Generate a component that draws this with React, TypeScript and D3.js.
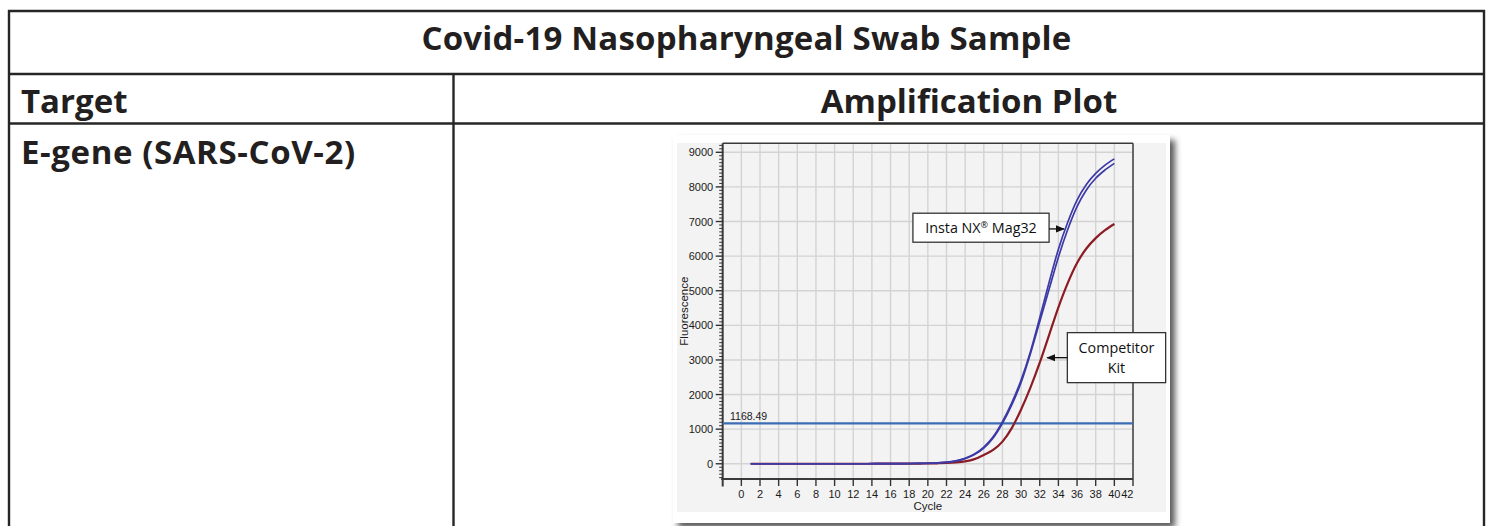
import React from "react";
import * as d3 from "d3";

const title = "Covid-19 Nasopharyngeal Swab Sample";
const colHeaders = ["Target", "Amplification Plot"];
const rowLabel = "E-gene (SARS-CoV-2)";

const cycles = [1, 2, 3, 4, 5, 6, 7, 8, 9, 10, 11, 12, 13, 14, 15, 16, 17, 18, 19, 20,
  21, 22, 23, 24, 25, 26, 27, 28, 29, 30, 31, 32, 33, 34, 35, 36, 37, 38, 39, 40];
const instaRun1 = [0, 0, 0, 0, 0, 0, 0, 0, 0, 0, 0, 0, 0, 2, 3, 4, 6, 8, 11, 15,
  25, 45, 85, 160, 280, 480, 780, 1220, 1760, 2420, 3240, 4220, 5240, 6200, 6980, 7620, 8070, 8390, 8630, 8810];
const instaRun2 = [0, 0, 0, 0, 0, 0, 0, 0, 0, 0, 0, 0, 0, 2, 3, 4, 5, 7, 10, 13,
  22, 40, 76, 150, 265, 455, 745, 1170, 1700, 2350, 3180, 4110, 5040, 5970, 6770, 7430, 7910, 8250, 8490, 8680];
const competitor = [0, 0, 0, 0, 0, 0, 0, 0, 0, 0, 0, 0, 0, 1, 2, 3, 4, 5, 7, 9,
  14, 22, 38, 70, 135, 255, 400, 640, 1030, 1570, 2200, 2920, 3720, 4520, 5220, 5800, 6220, 6520, 6750, 6930];
const threshold = 1168.49;
const thresholdLabel = "1168.49";
const xTicks = [0, 2, 4, 6, 8, 10, 12, 14, 16, 18, 20, 22, 24, 26, 28, 30, 32, 34, 36, 38, 40, 42];
const yTicks = [0, 1000, 2000, 3000, 4000, 5000, 6000, 7000, 8000, 9000];
const xLabel = "Cycle";
const yLabel = "Fluorescence";
const instaLabel = ["Insta NX", "®", " Mag32"];
const competitorLabel = ["Competitor", "Kit"];

export default function App() {
  const W = 1488, H = 526;
  const x = d3.scaleLinear().domain([-2, 42]).range([722.7, 1133]);
  const y = d3.scaleLinear().domain([-440, 9260]).range([479, 143.3]);
  const line = (vals: number[]) =>
    d3.line<number>().x((_, i) => x(cycles[i])).y((v) => y(v)).curve(d3.curveMonotoneX)(vals) || "";
  const minor = d3.range(-400, 9260, 100).filter((v) => v % 1000 !== 0);
  const tableFont = "'Open Sans', 'Noto Sans', sans-serif";
  const chartFont = "'Liberation Sans', Arial, sans-serif";
  const labelFont = "'Open Sans', 'Noto Sans', sans-serif";
  const bc = "#262626";
  const x0 = x.range()[0], x1 = x.range()[1];
  const yTop = y.range()[1], yBot = y.range()[0];

  // annotation anchors in data units
  const instaBox = { c0: 18.4, c1: 33.0, v0: 7240, v1: 6402, tipC: 34.6, tipV: 6786 };
  const compBox = { c0: 34.96, c1: 45.5, v0: 3789, v1: 2344, tipC: 32.8, tipV: 3066 };

  return (
    <div style={{ position: "absolute", left: 0, top: 0 }}>
      <svg width={W} height={H} style={{ display: "block", background: "#fff" }}>
        <defs>
          <filter id="sh" x="-5%" y="-5%" width="115%" height="115%">
            <feDropShadow dx="5" dy="5" stdDeviation="3.2" floodColor="#000" floodOpacity="0.65" />
          </filter>
          <marker id="arr" viewBox="0 0 10 10" refX="9" refY="5" markerWidth="7" markerHeight="7" orient="auto">
            <path d="M0,1 L10,5 L0,9 z" fill="#111" />
          </marker>
        </defs>
        {/* table */}
        <g fill="none" stroke={bc} strokeWidth={2.4}>
          <line x1={9} x2={9} y1={10} y2={H + 2} />
          <line x1={1484} x2={1484} y1={10} y2={H + 2} />
          <line x1={8} x2={1485} y1={11} y2={11} />
          <line x1={8} x2={1485} y1={74} y2={74} />
          <line x1={8} x2={1485} y1={123.5} y2={123.5} />
          <line x1={453.5} x2={453.5} y1={74} y2={H + 2} />
        </g>
        <g fill="#231f20" fontFamily={tableFont} fontWeight={700} fontSize={33}>
          <text x={746.5} y={50} textAnchor="middle" letterSpacing={0.2}>{title}</text>
          <text x={21} y={112.5}>{colHeaders[0]}</text>
          <text x={969} y={112.5} textAnchor="middle">{colHeaders[1]}</text>
          <text x={21} y={163.5} letterSpacing={0.6}>{rowLabel}</text>
        </g>
        {/* panel */}
        <rect x={673} y={135} width={497} height={388} fill="#fff" filter="url(#sh)" />
        <rect x={677} y={143} width={489} height={369} fill="#f3f3f3" />
        {/* grid */}
        <g stroke="#d3d3d3" strokeWidth={1.4}>
          {xTicks.filter((t) => t < 42).map((t) => (
            <line key={"gx" + t} x1={x(t)} x2={x(t)} y1={yTop} y2={yBot} />
          ))}
          {yTicks.map((t) => (
            <line key={"gy" + t} x1={x0} x2={x1} y1={y(t)} y2={y(t)} />
          ))}
        </g>
        {/* frame */}
        <g stroke="#3a3a3a" fill="none">
          <line x1={x0} x2={x1} y1={yTop} y2={yTop} strokeWidth={1.5} />
          <line x1={x1} x2={x1} y1={yTop} y2={yBot} strokeWidth={1.5} />
          <line x1={x0 - 1.5} x2={x1} y1={yBot} y2={yBot} strokeWidth={2} />
          <line x1={x0} x2={x0} y1={yTop} y2={yBot + 7.5} strokeWidth={2} />
        </g>
        {/* ticks */}
        <g stroke="#333" strokeWidth={1}>
          {minor.map((v) => (
            <line key={"m" + v} x1={x0 - 3.5} x2={x0} y1={y(v)} y2={y(v)} />
          ))}
          {yTicks.map((t) => (
            <line key={"yt" + t} x1={x0 - 7} x2={x0} y1={y(t)} y2={y(t)} strokeWidth={1.4} />
          ))}
          {xTicks.map((t) => (
            <line key={"xt" + t} x1={x(t)} x2={x(t)} y1={yBot} y2={yBot + 7} strokeWidth={1.4} />
          ))}
        </g>
        <g fontFamily={chartFont} fontSize={11} fill="#1a1a1a">
          {yTicks.map((t) => (
            <text key={"yl" + t} x={x0 - 9.5} y={y(t) + 4} textAnchor="end">{t}</text>
          ))}
          {xTicks.map((t, i) => (
            <text key={"xl" + t} x={i === xTicks.length - 1 ? x(t) + 0.5 : x(t)} y={498}
              textAnchor={i === xTicks.length - 1 ? "end" : "middle"}>{t}</text>
          ))}
          <text x={(x0 + x1) / 2} y={509.5} textAnchor="middle" fontSize={11.5}>{xLabel}</text>
          <text transform={`translate(688,${(yTop + yBot) / 2}) rotate(-90)`} textAnchor="middle" fontSize={11.5}>{yLabel}</text>
          <text x={730} y={419.5} fontSize={10.5}>{thresholdLabel}</text>
        </g>
        {/* threshold */}
        <line x1={x0} x2={x1} y1={y(threshold)} y2={y(threshold)} stroke="#3b6db4" strokeWidth={2.4} />
        {/* curves */}
        <g fill="none" strokeLinejoin="round">
          <path d={line(competitor)} stroke="#8c1c24" strokeWidth={2.2} />
          <path d={line(instaRun2)} stroke="#3d3aa6" strokeWidth={1.7} />
          <path d={line(instaRun1)} stroke="#3d3aa6" strokeWidth={1.7} />
        </g>
        {/* annotations */}
        <g fontFamily={labelFont} fontSize={14.3} fill="#111">
          <rect x={x(instaBox.c0)} y={y(instaBox.v0)} width={x(instaBox.c1) - x(instaBox.c0)}
            height={y(instaBox.v1) - y(instaBox.v0)} fill="#fff" stroke="#333" strokeWidth={1.3} />
          <text x={(x(instaBox.c0) + x(instaBox.c1)) / 2} y={(y(instaBox.v0) + y(instaBox.v1)) / 2 + 5.5} textAnchor="middle">
            {instaLabel[0]}
            <tspan fontSize={9} dy={-5}>{instaLabel[1]}</tspan>
            <tspan dy={5}>{instaLabel[2]}</tspan>
          </text>
          <line x1={x(instaBox.c1)} x2={x(instaBox.tipC)} y1={y(instaBox.tipV)} y2={y(instaBox.tipV)}
            stroke="#111" strokeWidth={1.3} markerEnd="url(#arr)" />
          <rect x={x(compBox.c0)} y={y(compBox.v0)} width={x(compBox.c1) - x(compBox.c0)}
            height={y(compBox.v1) - y(compBox.v0)} fill="#fff" stroke="#333" strokeWidth={1.3} />
          <text x={(x(compBox.c0) + x(compBox.c1)) / 2} y={y(compBox.v0) + 20} textAnchor="middle">{competitorLabel[0]}</text>
          <text x={(x(compBox.c0) + x(compBox.c1)) / 2} y={y(compBox.v0) + 40.5} textAnchor="middle">{competitorLabel[1]}</text>
          <line x1={x(compBox.c0)} x2={x(compBox.tipC)} y1={y(compBox.tipV)} y2={y(compBox.tipV)}
            stroke="#111" strokeWidth={1.3} markerEnd="url(#arr)" />
        </g>
      </svg>
    </div>
  );
}
